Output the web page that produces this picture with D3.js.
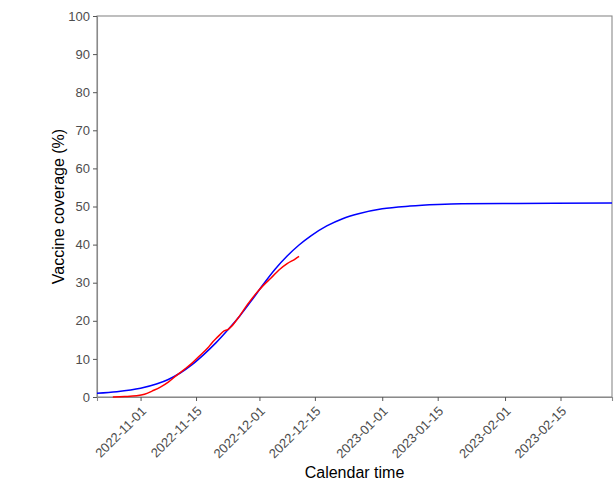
<!DOCTYPE html>
<html><head><meta charset="utf-8">
<script src="https://cdn.jsdelivr.net/npm/d3@7"></script>
<style>body{margin:0;background:#fff}</style>
</head><body><svg id="c" width="615" height="483"></svg>
<script>
const xDomain = ["2022-10-21", "2023-02-28"];
const xTickLabels = ["2022-11-01","2022-11-15","2022-12-01","2022-12-15","2023-01-01","2023-01-15","2023-02-01","2023-02-15"];
const yTicks = [0,10,20,30,40,50,60,70,80,90,100];

const modelDates = ["2022-10-21","2022-10-26","2022-11-01","2022-11-05","2022-11-08","2022-11-11","2022-11-14","2022-11-17","2022-11-20","2022-11-23","2022-11-26","2022-11-29","2022-12-02","2022-12-05","2022-12-08","2022-12-11","2022-12-14","2022-12-18","2022-12-22","2022-12-26","2023-01-01","2023-01-08","2023-01-15","2023-01-21","2023-02-04","2023-02-28"];
const modelValues = [1.0,1.4,2.3,3.4,4.6,6.3,8.5,11.2,14.2,17.6,21.2,25.3,29.6,33.6,37.0,39.9,42.3,44.9,46.8,48.1,49.4,50.1,50.5,50.7,50.8,50.9];

const obsDates = ["2022-10-25","2022-10-28","2022-10-31","2022-11-02","2022-11-04","2022-11-06","2022-11-08","2022-11-10","2022-11-12","2022-11-14","2022-11-16","2022-11-18","2022-11-19","2022-11-20","2022-11-21","2022-11-22","2022-11-23","2022-11-24","2022-11-26","2022-11-28","2022-11-30","2022-12-02","2022-12-04","2022-12-06","2022-12-08","2022-12-10","2022-12-11"];
const obsValues = [0.0,0.1,0.3,0.7,1.6,2.6,3.9,5.6,7.2,8.9,10.9,12.9,14.2,15.3,16.3,17.3,17.7,18.6,21.3,24.3,27.0,29.3,31.3,33.4,35.0,36.2,36.9];

const parse = s => { const [y,m,d] = s.split("-").map(Number); return new Date(Date.UTC(y, m-1, d)); };

const svg = d3.select("#c");
const L = 97, R = 612, T = 16, B = 397;
const x = d3.scaleUtc().domain(xDomain.map(parse)).range([L, R]);
const y = d3.scaleLinear().domain([0, 100]).range([B, T]);
const font = "'Liberation Sans', Arial, sans-serif";
const lineCol = "#8a8a8a";

// panel border
svg.append("rect").attr("x", L).attr("y", T).attr("width", R - L).attr("height", B - T)
  .attr("fill", "none").attr("stroke", lineCol).attr("stroke-width", 1.1);

// y axis
const yAxis = d3.axisLeft(y).tickValues(yTicks).tickSize(4).tickPadding(3);
const gy = svg.append("g").attr("transform", `translate(${L},0)`).call(yAxis);
gy.select(".domain").attr("stroke", lineCol).attr("stroke-width", 1.1);
gy.selectAll(".tick line").attr("stroke", "#555");
gy.selectAll(".tick text").attr("fill", "#4d4d4d").style("font-family", font).style("font-size", "13px");

// x axis
const xAxis = d3.axisBottom(x).tickValues(xTickLabels.map(parse)).tickSize(4).tickFormat(d3.utcFormat("%Y-%m-%d"));
const gx = svg.append("g").attr("transform", `translate(0,${B})`).call(xAxis);
gx.select(".domain").attr("stroke", lineCol).attr("stroke-width", 1.1);
gx.selectAll(".tick line").attr("stroke", "#555");
gx.selectAll(".tick text").attr("fill", "#4d4d4d").style("font-family", font).style("font-size", "13px")
  .attr("text-anchor", "end").attr("x", 0).attr("y", 0).attr("dy", "0")
  .attr("transform", "translate(6,15) rotate(-45)");

// lines
const line = d3.line().x(d => x(d[0])).y(d => y(d[1]));
const modelData = modelDates.map((d, i) => [parse(d), modelValues[i]]);
const obsData = obsDates.map((d, i) => [parse(d), obsValues[i]]);
svg.append("path").datum(modelData).attr("d", line.curve(d3.curveMonotoneX))
  .attr("fill", "none").attr("stroke", "#0000ff").attr("stroke-width", 1.5);
svg.append("path").datum(obsData).attr("d", d3.line().x(d => x(d[0])).y(d => y(d[1])).curve(d3.curveMonotoneX))
  .attr("fill", "none").attr("stroke", "#ff0000").attr("stroke-width", 1.5);

// axis titles
svg.append("text").attr("x", (L + R) / 2).attr("y", 478).attr("text-anchor", "middle")
  .style("font-family", font).style("font-size", "16px").attr("fill", "#000").text("Calendar time");
svg.append("text").attr("transform", `translate(64,${(T + B) / 2}) rotate(-90)`).attr("text-anchor", "middle")
  .style("font-family", font).style("font-size", "16px").attr("fill", "#000").text("Vaccine coverage (%)");
</script>
</body></html>
